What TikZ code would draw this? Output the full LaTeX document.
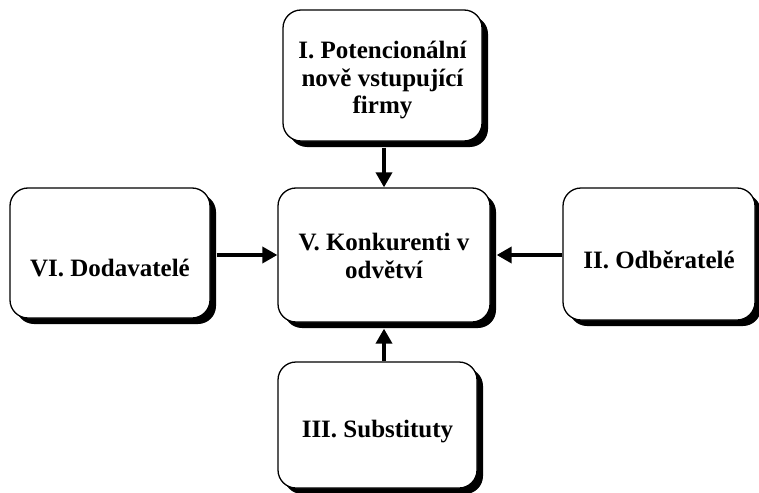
\documentclass[tikz,border=0pt]{standalone}
\usepackage{fontspec}
\setmainfont{Liberation Serif}
\usetikzlibrary{arrows.meta,shadows}
\tikzset{
  box/.style={draw=black, line width=1.3pt, fill=white, rounded corners=18pt, inner sep=0pt,
    drop shadow={shadow xshift=6pt, shadow yshift=-6pt, opacity=1, fill=black, rounded corners=18pt}},
  lbl/.style={font=\fontsize{25}{27.5}\selectfont\bfseries, align=center, inner sep=0pt},
  arr/.style={line width=3.6pt, -{Triangle[length=15pt,width=16pt]}}
}
\begin{document}
\begin{tikzpicture}[x=1pt,y=-1pt]
\useasboundingbox (0,0) rectangle (759,492);
\node[box, minimum width=199pt, minimum height=131pt] (I) at (382.5,75.5) {};
\node[box, minimum width=200pt, minimum height=130pt] (VI) at (110,253) {};
\node[box, minimum width=212pt, minimum height=134pt] (V) at (384,255) {};
\node[box, minimum width=192pt, minimum height=132pt] (II) at (659,254) {};
\node[box, minimum width=199pt, minimum height=126pt] (III) at (377.5,425) {};
\node[lbl] (Ilbl) at (382.5,80.5) {I. Potencionální\\nově vstupující\\firmy};
\node[lbl] (VIlbl) at (110,268) {VI. Dodavatelé};
\node[lbl] (Vlbl) at (384,256) {V. Konkurenti v\\odvětví};
\node[lbl] (IIlbl) at (659,259.5) {II. Odběratelé};
\node[lbl] (IIIlbl) at (377.5,432) {III. Substituty};
\draw[arr] (V.north |- I.south) ++(0,6) -- (V.north);
\draw[arr] (III.north -| V.south) -- ([yshift=-6pt]V.south);
\draw[arr] ([xshift=6pt]VI.east |- V.west) -- (V.west);
\draw[arr] (II.west |- V.east) -- ([xshift=6pt]V.east);
\end{tikzpicture}
\end{document}
